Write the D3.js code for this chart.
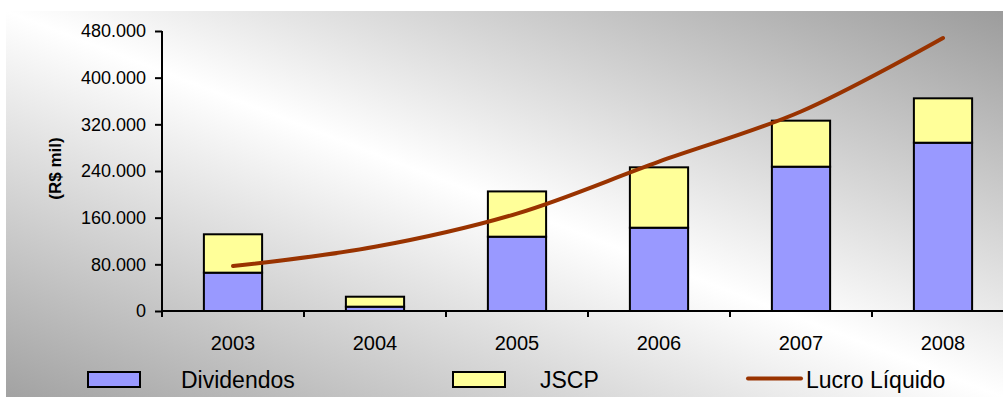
<!DOCTYPE html>
<html>
<head>
<meta charset="utf-8">
<script src="https://cdn.jsdelivr.net/npm/d3@7"></script>
<style>
  html, body { margin: 0; padding: 0; background: #ffffff; }
  svg { display: block; font-family: "Liberation Sans", Arial, sans-serif; }
</style>
</head>
<body>
<svg id="chart" width="1003" height="397"></svg>
<script>
// Dividends, interest on equity (JSCP) and net income, in R$ thousand
const years = ["2003", "2004", "2005", "2006", "2007", "2008"];
const dividendos = [65700, 7400, 127400, 142800, 247400, 288500];
const jscp = [65800, 17100, 77600, 103500, 78900, 76100];
const lucroLiquido = [77000, 110000, 167000, 256000, 342000, 468000];
const yTicks = [0, 80000, 160000, 240000, 320000, 400000, 480000];
const seriesNames = ["Dividendos", "JSCP", "Lucro Líquido"];

const colors = { Dividendos: "#9999ff", JSCP: "#ffff99", line: "#993300" };

const svg = d3.select("#chart");

// Panel background: white band along the diagonal, grey towards two corners
const defs = svg.append("defs");
const grad = defs.append("linearGradient")
  .attr("id", "panelGrad")
  .attr("x1", 0).attr("y1", 1).attr("x2", 1).attr("y2", 0);
grad.append("stop").attr("offset", 0).attr("stop-color", "#a2a2a2");
grad.append("stop").attr("offset", 0.5).attr("stop-color", "#ffffff");
grad.append("stop").attr("offset", 1).attr("stop-color", "#9c9c9c");

svg.append("rect")
  .attr("x", 6).attr("y", 11).attr("width", 997).attr("height", 386)
  .attr("fill", "url(#panelGrad)");

// Scales
const y = d3.scaleLinear().domain([0, 480000]).range([311, 31]);
const xBand = d3.scaleBand().domain(years).range([162, 1014])
  .paddingInner(0.59).paddingOuter(0.295);
const xCat = d3.scaleBand().domain(years).range([162, 1014]).padding(0);

// Stacked bars
const stackData = years.map((yr, i) => ({ year: yr, Dividendos: dividendos[i], JSCP: jscp[i] }));
const stacked = d3.stack().keys(["Dividendos", "JSCP"])(stackData);

const barG = svg.append("g");
stacked.forEach(layer => {
  barG.selectAll(null)
    .data(layer)
    .enter().append("rect")
    .attr("x", d => xBand(d.data.year))
    .attr("width", xBand.bandwidth())
    .attr("y", d => y(d[1]))
    .attr("height", d => y(d[0]) - y(d[1]))
    .attr("fill", colors[layer.key])
    .attr("stroke", "#000")
    .attr("stroke-width", 2);
});

// Y axis
const yAxis = d3.axisLeft(y)
  .tickValues(yTicks)
  .tickSize(7)
  .tickPadding(9)
  .tickFormat(d => d === 0 ? "0" : d3.format(",")(d).replace(/,/g, "."));
const yG = svg.append("g").attr("transform", "translate(162,0)").call(yAxis);
yG.select(".domain").attr("stroke", "#000").attr("stroke-width", 2)
  .attr("d", `M0,${y(480000)}V${y(0) + 6}`);
yG.selectAll(".tick line").attr("stroke", "#000").attr("stroke-width", 2);
yG.selectAll(".tick text")
  .attr("font-size", 18).attr("fill", "#000")
  .attr("font-family", "'Liberation Sans', Arial, sans-serif");

// X axis: baseline, boundary ticks between categories, year labels
const xG = svg.append("g");
xG.append("line")
  .attr("x1", 162).attr("x2", 1014)
  .attr("y1", y(0)).attr("y2", y(0))
  .attr("stroke", "#000").attr("stroke-width", 2);
const boundaries = years.map(d => xCat(d)).concat([xCat.range()[1]]);
xG.selectAll(null).data(boundaries).enter().append("line")
  .attr("x1", d => d).attr("x2", d => d)
  .attr("y1", y(0)).attr("y2", y(0) + 6)
  .attr("stroke", "#000").attr("stroke-width", 2);
xG.selectAll(null).data(years).enter().append("text")
  .attr("x", d => xCat(d) + xCat.bandwidth() / 2)
  .attr("y", 350)
  .attr("text-anchor", "middle")
  .attr("font-size", 20)
  .attr("fill", "#000")
  .text(d => d);

// Y axis title
svg.append("text")
  .attr("transform", "translate(61,168.5) rotate(-90)")
  .attr("text-anchor", "middle")
  .attr("font-size", 17)
  .attr("font-weight", "bold")
  .attr("fill", "#000")
  .text("(R$ mil)");

// Net income line (smoothed)
const line = d3.line()
  .x((d, i) => xCat(years[i]) + xCat.bandwidth() / 2)
  .y(d => y(d))
  .curve(d3.curveCatmullRom.alpha(0.5));
svg.append("path")
  .datum(lucroLiquido)
  .attr("d", line)
  .attr("fill", "none")
  .attr("stroke", colors.line)
  .attr("stroke-width", 4)
  .attr("stroke-linecap", "round");

// Legend
const legend = svg.append("g");
const sw = [
  { name: seriesNames[0], x: 88, fill: colors.Dividendos, tx: 181 },
  { name: seriesNames[1], x: 453, fill: colors.JSCP, tx: 540 }
];
sw.forEach(s => {
  legend.append("rect")
    .attr("x", s.x).attr("y", 372).attr("width", 52).attr("height", 15)
    .attr("fill", s.fill).attr("stroke", "#000").attr("stroke-width", 2);
  legend.append("text")
    .attr("x", s.tx).attr("y", 388)
    .attr("font-size", 23).attr("fill", "#000")
    .text(s.name);
});
legend.append("line")
  .attr("x1", 748).attr("x2", 801).attr("y1", 378.5).attr("y2", 378.5)
  .attr("stroke", colors.line).attr("stroke-width", 4).attr("stroke-linecap", "round");
legend.append("text")
  .attr("x", 806).attr("y", 388)
  .attr("font-size", 23).attr("fill", "#000")
  .text(seriesNames[2]);
</script>
</body>
</html>
